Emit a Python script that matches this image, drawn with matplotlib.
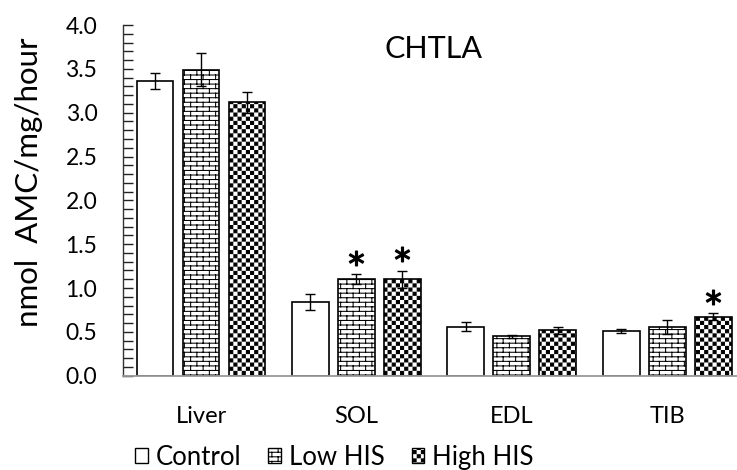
import warnings
warnings.filterwarnings("ignore")
import numpy as np
import matplotlib
matplotlib.use("Agg")
import matplotlib.pyplot as plt
import matplotlib.hatch as mhatch
from matplotlib.path import Path
from matplotlib.patches import Patch

# ---------------- data ----------------
categories = ["Liver", "SOL", "EDL", "TIB"]
series_names = ["Control", "Low HIS", "High HIS"]
control = [3.36, 0.84, 0.56, 0.51]
control_err = [0.095, 0.09, 0.05, 0.025]
low_his = [3.49, 1.10, 0.45, 0.555]
low_his_err = [0.19, 0.055, 0.015, 0.085]
high_his = [3.12, 1.10, 0.52, 0.673]
high_his_err = [0.12, 0.095, 0.04, 0.04]
# significance markers: (category index, series index)
significant = [(1, 1), (1, 2), (3, 2)]
yticks = [0.0, 0.5, 1.0, 1.5, 2.0, 2.5, 3.0, 3.5, 4.0]

# ---------------- custom hatches ----------------
class BrickHatch(mhatch.HatchPatternBase):
    ROWS, COLS = 22, 8

    def __init__(self, hatch, density):
        on = hatch.count('b') > 0
        R, C = self.ROWS, self.COLS
        nseg = R + (R + 1) * C
        self.num_vertices = 2 * nseg if on else 0

    def set_vertices_and_codes(self, vertices, codes):
        R, C = self.ROWS, self.COLS
        segs = []
        for r in range(R):
            y0 = (r + 0.5) / R
            segs.append(((0.0, y0), (1.0, y0)))
        for r in range(R):
            off = 0.5 if r % 2 else 0.0
            y0 = (r + 0.5) / R
            y1 = (r + 1.5) / R
            for c in range(C):
                xx = (c + 0.25 + off) / C
                if r < R - 1:
                    segs.append(((xx, y0), (xx, y1)))
                else:
                    segs.append(((xx, y0), (xx, 1.0)))
                    segs.append(((xx, 0.0), (xx, 0.5 / R)))
        arr = np.array(segs, dtype=float).reshape(-1, 2)
        vertices[:] = arr
        codes[0::2] = Path.MOVETO
        codes[1::2] = Path.LINETO


class CheckerHatch(mhatch.HatchPatternBase):
    N = 24

    def __init__(self, hatch, density):
        on = hatch.count('k') > 0
        self.num_vertices = 5 * (self.N * self.N // 2) if on else 0

    def set_vertices_and_codes(self, vertices, codes):
        N = self.N
        s = 1.0 / N
        pad = 0.0055
        k = 0
        for i in range(N):
            for j in range(N):
                if (i + j) % 2 == 0:
                    x0, x1 = i * s + pad, (i + 1) * s - pad
                    y0, y1 = j * s + pad, (j + 1) * s - pad
                    vertices[k:k + 5] = [(x0, y0), (x1, y0), (x1, y1), (x0, y1), (x0, y0)]
                    codes[k] = Path.MOVETO
                    codes[k + 1:k + 4] = Path.LINETO
                    codes[k + 4] = Path.CLOSEPOLY
                    k += 5


mhatch._hatch_types.append(BrickHatch)
mhatch._hatch_types.append(CheckerHatch)

plt.rcParams['font.family'] = ['Lato', 'DejaVu Sans']
plt.rcParams['hatch.linewidth'] = 0.75
plt.rcParams['hatch.color'] = 'black'

fig = plt.figure(figsize=(7.37, 4.70), dpi=100)
ax = fig.add_axes([123.3 / 737, 94.3 / 470, 621.6 / 737, 350.7 / 470])

x = np.arange(len(categories))
width = 0.236
step = 0.296
hatches = [None, 'b', 'k']
vals = [control, low_his, high_his]
errs = [control_err, low_his_err, high_his_err]

for i, (v, e, h) in enumerate(zip(vals, errs, hatches)):
    xs = x + (i - 1) * step
    ax.bar(xs, v, width, color='white', edgecolor='black', linewidth=1.2,
           hatch=h, zorder=2)
    ax.errorbar(xs, v, yerr=e, fmt='none', ecolor='black', elinewidth=1.0,
                capsize=3.6, capthick=1.0, zorder=3)

for ci, si in significant:
    xs = x[ci] + (si - 1) * step
    ys = vals[si][ci] + errs[si][ci] + 0.19
    ax.plot([xs], [ys], linestyle='none', marker='$*$', markersize=10.5,
            color='black', zorder=4)

ax.set_xlim(-0.5, 3.5)
ax.set_ylim(0, 4.0)
ax.set_xticks(x)
ax.set_xticklabels(categories, fontsize=17)
ax.tick_params(axis='x', length=0, pad=21.5)
ax.set_yticks(yticks)
ax.set_yticklabels([f"{t:.1f}" for t in yticks], fontsize=16.5)
ax.yaxis.set_minor_locator(matplotlib.ticker.MultipleLocator(0.1))
ax.tick_params(axis='y', which='both', direction='in', length=7, width=1.0,
               color='#222222', pad=18.7)

for s in ['top', 'right']:
    ax.spines[s].set_visible(False)
ax.spines['left'].set_color('#333333')
ax.spines['left'].set_linewidth(1.0)
ax.spines['bottom'].set_color('#999999')
ax.spines['bottom'].set_linewidth(1.3)

fig.text(29 / 737, 1 - 182 / 470, "nmol  AMC/mg/hour", rotation=90,
         ha='center', va='center', fontsize=22.5)
fig.text(434 / 737, 1 - 58.5 / 470, "CHTLA", ha='center', va='baseline',
         fontsize=22)

handles = [Patch(facecolor='white', edgecolor='black', linewidth=1.0, hatch=h)
           for h in hatches]
fig.legend(handles, series_names, loc='lower left',
           bbox_to_anchor=(130 / 737, -5 / 470), ncol=3, frameon=False,
           fontsize=18.5, handlelength=0.5, handleheight=0.5,
           handletextpad=0.3, columnspacing=1.05, borderpad=0.2,
           borderaxespad=0.0)

fig.savefig("out.png", dpi=100)
